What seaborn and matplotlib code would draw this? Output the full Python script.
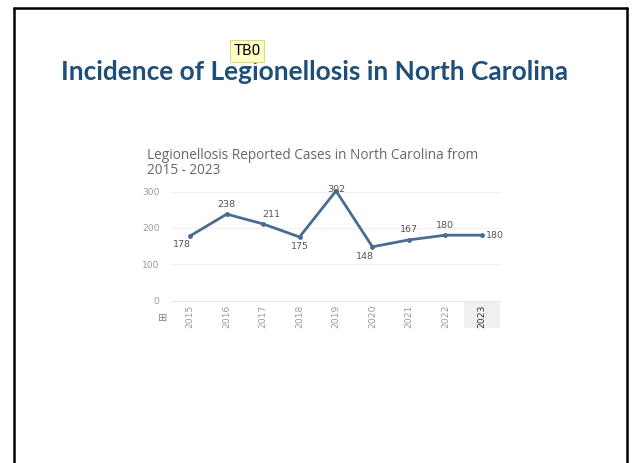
import matplotlib
matplotlib.use("Agg")
import matplotlib.pyplot as plt
import seaborn as sns
import pandas as pd
from matplotlib.patches import Rectangle
from matplotlib.lines import Line2D
import matplotlib.transforms as mtrans

years = ["2015", "2016", "2017", "2018", "2019", "2020", "2021", "2022", "2023"]
cases = [178, 238, 211, 175, 302, 148, 167, 180, 180]
yticks = [0, 100, 200, 300]
# label offsets in pixels (dx, dy)
label_offsets = [(-8, -9), (0, 10), (8, 9), (0, -10), (0, 1), (-8, -10), (0, 10), (0, 10), (13, 0)]

sns.set_theme(style="white")
plt.rcParams['font.family'] = ['DejaVu Sans']

W, H = 632, 463
fig = plt.figure(figsize=(W / 100, H / 100), dpi=100)
fig.patch.set_facecolor("white")

def fx(px):
    return px / W

def fy(py):
    return 1 - py / H

# slide border
for xs, ys in [([14, 14], [8, H]), ([14, 627], [8, 8]), ([627, 627], [8, H])]:
    fig.add_artist(Line2D([fx(x) for x in xs], [fy(y) for y in ys], color="black", lw=1.8))

# main title
fig.text(fx(315), fy(72), "Incidence of Legionellosis in North Carolina", ha="center", va="center",
         fontsize=18.9, fontweight="bold", color="#1F4E79", family=["Lato", "DejaVu Sans"])
# TB0 comment marker
fig.text(fx(247), fy(51), "TB0", ha="center", va="center", fontsize=11, color="black",
         family=["Roboto", "DejaVu Sans"],
         bbox=dict(boxstyle="square,pad=0.25", facecolor="#FFFFC6", edgecolor="#D8D890", lw=0.8))

# chart title
fig.text(fx(147), fy(155), "Legionellosis Reported Cases in North Carolina from", ha="left", va="center",
         fontsize=9.8, color="#666666", family=["Open Sans", "DejaVu Sans"])
fig.text(fx(147), fy(170), "2015 - 2023", ha="left", va="center",
         fontsize=9.8, color="#666666", family=["Open Sans", "DejaVu Sans"])

ax = fig.add_axes([fx(172), fy(300.5), fx(500) - fx(172), (300.5 - 184) / H])
df = pd.DataFrame({"Year": years, "Cases": cases})
df["pos"] = range(len(years))
sns.lineplot(data=df, x="pos", y="Cases", ax=ax, color="#4A6C93", lw=2.0, marker="o",
             markersize=3.5, markeredgewidth=0)
ax.set_xlim(-0.5, 8.5)
ax.set_ylim(0, 321)
ax.set_xlabel("")
ax.set_ylabel("")
ax.set_yticks(yticks)
ax.set_yticklabels([str(v) for v in yticks], fontsize=6.6, color="#9a9a9a")
ax.set_xticks(range(len(years)))
ax.set_xticklabels(years, rotation=90, fontsize=6.6, color="#9a9a9a")
ax.get_xticklabels()[-1].set_color("#333333")
ax.tick_params(axis="both", length=0)
ax.tick_params(axis="y", pad=9)
ax.tick_params(axis="x", pad=3)
for s in ["left", "right", "top"]:
    ax.spines[s].set_visible(False)
ax.spines["bottom"].set_color("#e8e8e8")
ax.spines["bottom"].set_linewidth(0.8)
for v in yticks[1:]:
    ax.axhline(v, color="#f0f0f0", lw=0.8, zorder=0)

trans = mtrans.blended_transform_factory(ax.transData, ax.transAxes)
ax.add_patch(Rectangle((7.5, -0.235), 1.0, 0.235, transform=trans, facecolor="#f0f0f0",
                       edgecolor="none", clip_on=False, zorder=0))

for i, (v, (dx, dy)) in enumerate(zip(cases, label_offsets)):
    ax.annotate(str(v), (i, v), xytext=(dx, dy), textcoords="offset pixels",
                ha="center", va="center", fontsize=6.8, color="#555555")

# expand icon
fig.text(fx(163), fy(318), "\u229e", ha="center", va="center", fontsize=8, color="#888888")

fig.savefig("out.png", dpi=100, facecolor="white")
